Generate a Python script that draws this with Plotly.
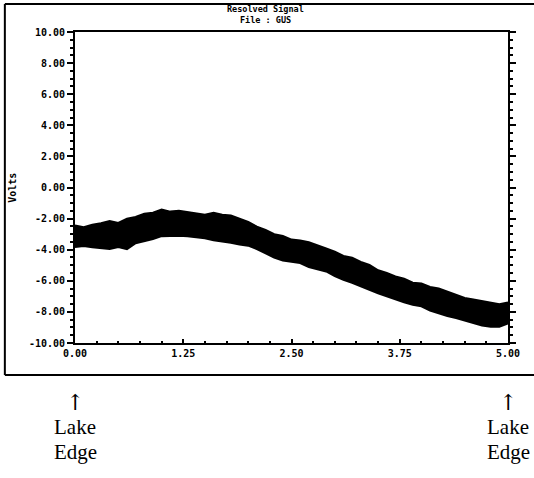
import plotly.graph_objects as go

# Envelope of the noisy signal band
x_vals = [0.0, 0.1, 0.2, 0.3, 0.4, 0.5, 0.6, 0.7, 0.8, 0.9,
          1.0, 1.1, 1.2, 1.3, 1.4, 1.5, 1.6, 1.7, 1.8, 1.9,
          2.0, 2.1, 2.2, 2.3, 2.4, 2.5, 2.6, 2.7, 2.8, 2.9,
          3.0, 3.1, 3.2, 3.3, 3.4, 3.5, 3.6, 3.7, 3.8, 3.9,
          4.0, 4.1, 4.2, 4.3, 4.4, 4.5, 4.6, 4.7, 4.8, 4.9, 5.0]
upper = [-2.45, -2.55, -2.40, -2.30, -2.15, -2.28, -2.00, -1.90, -1.68, -1.62,
         -1.42, -1.55, -1.50, -1.58, -1.68, -1.75, -1.62, -1.75, -1.80, -2.00,
         -2.22, -2.52, -2.72, -3.00, -3.12, -3.35, -3.40, -3.52, -3.70, -3.92,
         -4.12, -4.40, -4.52, -4.78, -4.98, -5.32, -5.50, -5.72, -5.86, -6.12,
         -6.18, -6.40, -6.50, -6.70, -6.85, -7.10, -7.20, -7.30, -7.36, -7.50, -7.40]
lower = [-3.83, -3.77, -3.85, -3.90, -3.96, -3.83, -3.96, -3.58, -3.45, -3.32,
         -3.13, -3.11, -3.11, -3.13, -3.19, -3.26, -3.39, -3.45, -3.55, -3.67,
         -3.74, -3.96, -4.25, -4.50, -4.70, -4.79, -4.86, -5.11, -5.24, -5.40,
         -5.69, -5.94, -6.13, -6.33, -6.58, -6.80, -7.00, -7.19, -7.38, -7.54,
         -7.64, -7.92, -8.12, -8.27, -8.40, -8.56, -8.69, -8.88, -8.95, -8.95, -8.75]

y_ticks = [10, 8, 6, 4, 2, 0, -2, -4, -6, -8, -10]
y_tick_text = ["10.00", "8.00", "6.00", "4.00", "2.00", "0.00",
               "-2.00", "-4.00", "-6.00", "-8.00", "-10.00"]
x_ticks = [0, 1.25, 2.5, 3.75, 5.0]
x_tick_text = ["0.00", "1.25", "2.50", "3.75", "5.00"]

title_lines = ["Resolved Signal", "File : GUS"]
y_title = "Volts"
edge_label = ["Lake", "Edge"]
edge_x = [0.0, 5.0]

fig = go.Figure()
fig.add_trace(go.Scatter(x=x_vals, y=lower, mode="lines",
                         line=dict(color="black", width=2), showlegend=False))
fig.add_trace(go.Scatter(x=x_vals, y=upper, mode="lines", fill="tonexty",
                         fillcolor="black",
                         line=dict(color="black", width=2), showlegend=False))

tickfont = dict(family="DejaVu Sans Mono", size=10, color="black", weight="bold")
titlefont = dict(family="DejaVu Sans Mono", size=8.5, color="black", weight="bold")

fig.update_xaxes(range=[0, 5], tickvals=x_ticks, ticktext=x_tick_text,
                 showline=True, linecolor="black", linewidth=2, mirror=True,
                 ticks="inside", ticklen=4, tickcolor="black", tickwidth=2,
                 minor=dict(dtick=0.25, ticks="inside", ticklen=2, tickcolor="black"),
                 showgrid=False, zeroline=False, tickfont=tickfont, automargin=False)
fig.update_yaxes(range=[-10, 10], tickvals=y_ticks, ticktext=y_tick_text,
                 showline=True, linecolor="black", linewidth=2, mirror="ticks",
                 ticks="outside", ticklen=6, tickcolor="black", tickwidth=2,
                 minor=dict(dtick=0.5, ticks="outside", ticklen=3, tickcolor="black"),
                 showgrid=False, zeroline=False, tickfont=tickfont, automargin=False)

# outer frame of the screen
frame = dict(xref="paper", yref="paper", line=dict(color="black", width=2))
fig.add_shape(type="line", x0=-0.162, x1=-0.162, y0=-0.103, y1=1.090, **frame)
fig.add_shape(type="line", x0=-0.162, x1=1.07, y0=1.090, y1=1.090, **frame)
fig.add_shape(type="line", x0=-0.162, x1=1.07, y0=-0.103, y1=-0.103, **frame)

fig.add_annotation(text=y_title, xref="paper", yref="paper", x=-0.145, y=0.50,
                   textangle=-90, showarrow=False, font=tickfont,
                   xanchor="center", yanchor="middle")
fig.add_annotation(text=title_lines[0], xref="paper", yref="paper", x=0.441, y=1.074,
                   showarrow=False, font=titlefont, yanchor="middle")
fig.add_annotation(text=title_lines[1], xref="paper", yref="paper", x=0.441, y=1.040,
                   showarrow=False, font=titlefont, yanchor="middle")

serif = dict(family="Liberation Serif", size=21, color="black")
for ex in edge_x:
    fig.add_annotation(text="↑", xref="x", yref="paper", x=ex, y=-0.192,
                       showarrow=False, font=dict(family="DejaVu Serif", size=22, color="black"),
                       yanchor="middle")
    fig.add_annotation(text=edge_label[0], xref="x", yref="paper", x=ex, y=-0.270,
                       showarrow=False, font=serif, yanchor="middle")
    fig.add_annotation(text=edge_label[1], xref="x", yref="paper", x=ex, y=-0.352,
                       showarrow=False, font=serif, yanchor="middle")

fig.update_layout(width=534, height=478,
                  margin=dict(l=75, r=26, t=32, b=135),
                  paper_bgcolor="white", plot_bgcolor="white")

fig.write_html("out.html")
